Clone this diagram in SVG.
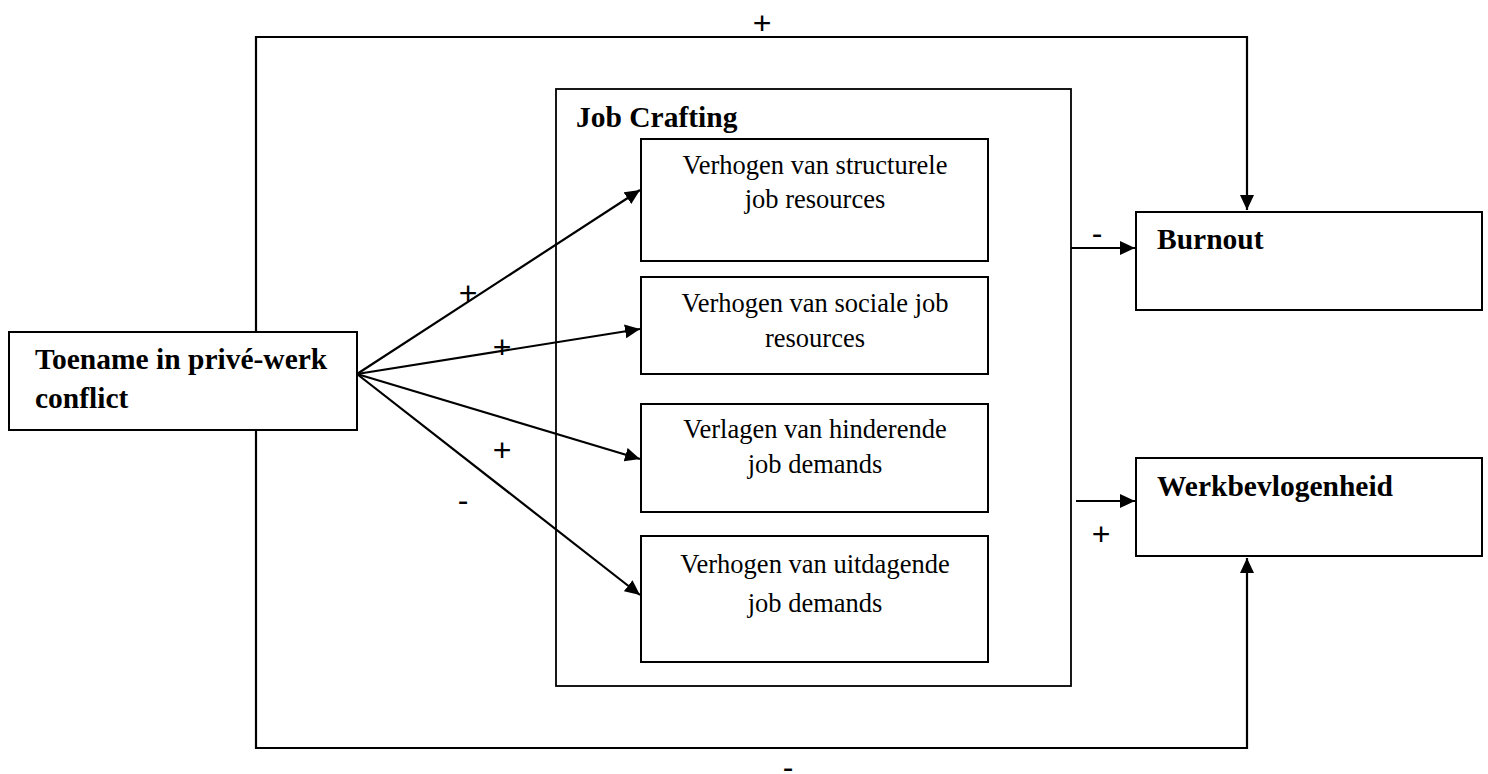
<svg xmlns="http://www.w3.org/2000/svg" width="1488" height="774" viewBox="0 0 1488 774">
<style>
.box{fill:#fff;stroke:#000;stroke-width:2}
.frame{fill:none;stroke:#000;stroke-width:1.8}
.ln{fill:none;stroke:#000;stroke-width:2.2}
.b{font-family:"Liberation Serif","Times New Roman",serif;font-weight:bold;font-size:29.5px;fill:#000}
.t{font-family:"Liberation Serif","Times New Roman",serif;font-size:26.5px;fill:#000;text-anchor:middle}
.s{font-family:"Liberation Sans",Arial,sans-serif;font-size:32px;fill:#000;text-anchor:middle}
</style>
<defs>
<marker id="ah" markerUnits="userSpaceOnUse" markerWidth="16" markerHeight="14" refX="15" refY="7" orient="auto">
<path d="M0,0 L15,7 L0,14 Z" fill="#000"/>
</marker>
</defs>
<rect width="1488" height="774" fill="#fff"/>

<g id="connectors">
<polyline class="ln" points="256,332 256,37 1247,37 1247,210" marker-end="url(#ah)"/>
<polyline class="ln" points="256,430 256,748 1247,748 1247,558" marker-end="url(#ah)"/>
<line class="ln" x1="357" y1="374" x2="640" y2="190" marker-end="url(#ah)"/>
<line class="ln" x1="357" y1="374" x2="640" y2="329" marker-end="url(#ah)"/>
<line class="ln" x1="357" y1="374" x2="640" y2="459" marker-end="url(#ah)"/>
<line class="ln" x1="357" y1="374" x2="640" y2="595" marker-end="url(#ah)"/>
<line class="ln" x1="1071" y1="248" x2="1135" y2="248" marker-end="url(#ah)"/>
<line class="ln" x1="1076" y1="501" x2="1135" y2="501" marker-end="url(#ah)"/>
<text class="s" x="762" y="33.5">+</text>
<text class="s" x="788" y="778">-</text>
<text class="s" x="468" y="303.5">+</text>
<text class="s" x="502" y="357.5">+</text>
<text class="s" x="502" y="460.5">+</text>
<text class="s" x="463" y="511">-</text>
<text class="s" x="1097" y="244">-</text>
<text class="s" x="1101" y="544.5">+</text>
</g>

<g id="toename">
<rect class="box" x="9" y="332" width="348" height="98"/>
<text class="b" x="35" y="369">Toename in privé-werk</text>
<text class="b" x="35" y="408">conflict</text>
</g>

<g id="jobcrafting">
<rect class="frame" x="556" y="89" width="515" height="597"/>
<text class="b" x="576" y="127">Job Crafting</text>
</g>

<g id="structurele">
<rect class="box" x="641" y="139" width="347" height="122"/>
<text class="t" x="815" y="174">Verhogen van structurele</text>
<text class="t" x="815" y="208">job resources</text>
</g>

<g id="sociale">
<rect class="box" x="641" y="277" width="347" height="97"/>
<text class="t" x="815" y="312">Verhogen van sociale job</text>
<text class="t" x="815" y="347">resources</text>
</g>

<g id="hinderende">
<rect class="box" x="641" y="404" width="347" height="108"/>
<text class="t" x="815" y="438">Verlagen van hinderende</text>
<text class="t" x="815" y="473">job demands</text>
</g>

<g id="uitdagende">
<rect class="box" x="641" y="536" width="347" height="126"/>
<text class="t" x="815" y="573">Verhogen van uitdagende</text>
<text class="t" x="815" y="612">job demands</text>
</g>

<g id="burnout">
<rect class="box" x="1136" y="212" width="346" height="98"/>
<text class="b" x="1157" y="249">Burnout</text>
</g>

<g id="werkbevlogenheid">
<rect class="box" x="1136" y="458" width="346" height="98"/>
<text class="b" x="1157" y="496">Werkbevlogenheid</text>
</g>
</svg>
